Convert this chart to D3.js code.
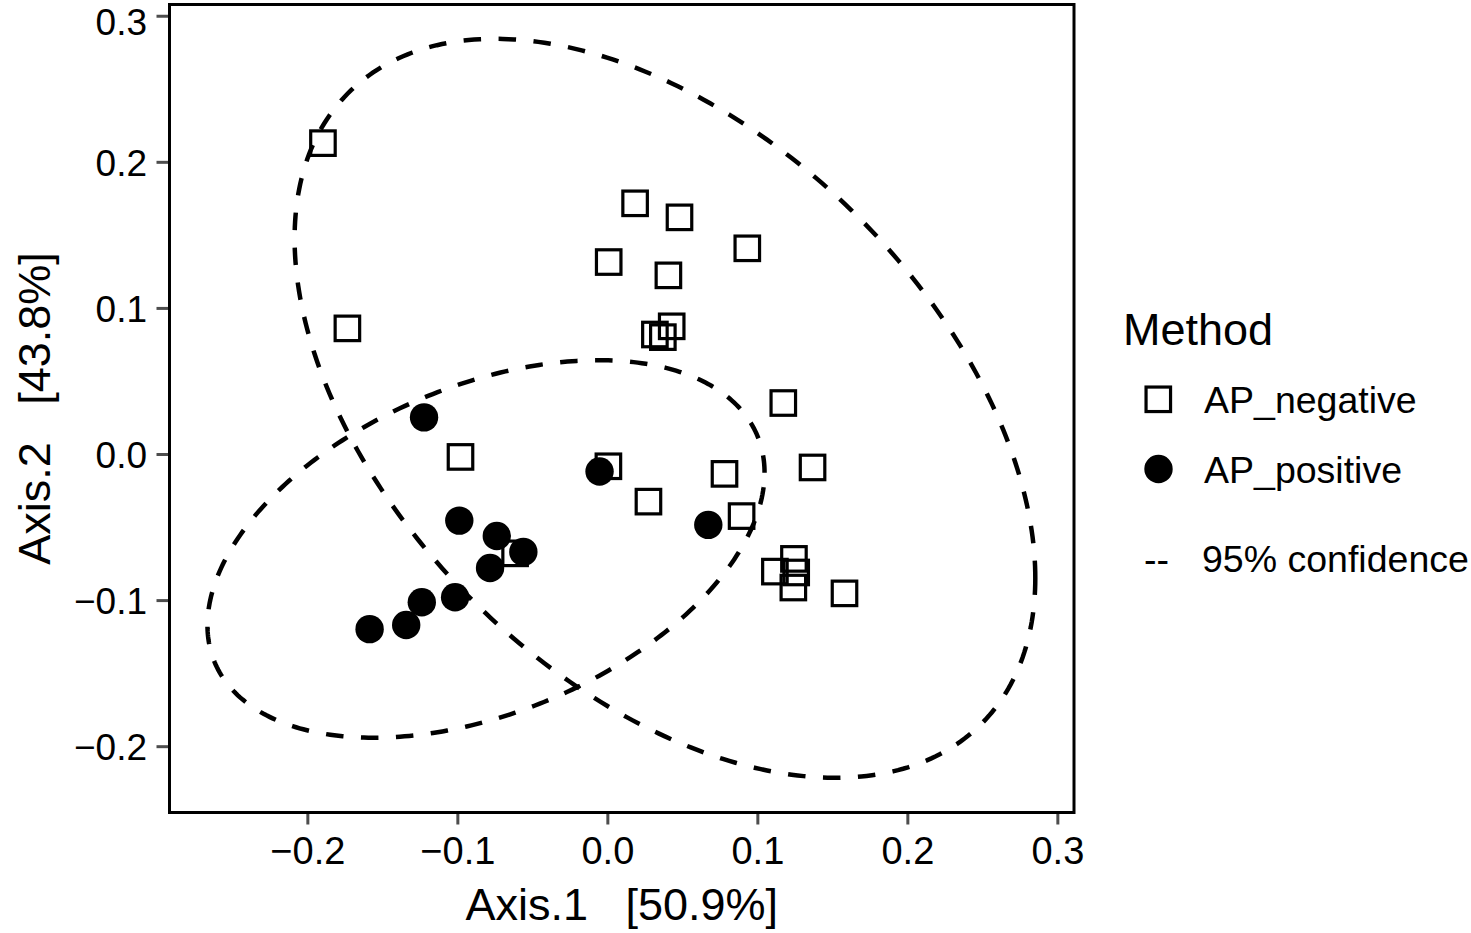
<!DOCTYPE html>
<html><head><meta charset="utf-8">
<script src="https://cdn.jsdelivr.net/npm/d3@7"></script>
<style>html,body{margin:0;padding:0;background:#fff}</style>
</head><body><svg id="c" width="1471" height="933"></svg>
<script>
// ---- data ----
const groups = ["AP_negative", "AP_positive"];
const negX = [-0.1896,-0.1733,0.0185,0.0009,0.0481,0.0933,0.0407,0.0429,0.0317,0.0370,0.1173,-0.0979,-0.0615,0.0007,0.1368,0.0781,0.0274,0.0895,0.1244,0.1117,0.1259,0.1240,0.1581];
const negY = [0.2128,0.0860,0.1716,0.1314,0.1620,0.1408,0.1223,0.0874,0.0818,0.0800,0.0349,-0.0020,-0.0680,-0.0084,-0.0092,-0.0136,-0.0326,-0.0425,-0.0718,-0.0805,-0.0811,-0.0914,-0.0954];
const posX = [-0.1222,-0.0052,-0.0987,-0.0737,-0.0560,-0.0782,-0.1015,-0.1237,-0.1341,-0.1585,0.0673];
const posY = [0.0251,-0.0120,-0.0456,-0.0561,-0.0670,-0.0780,-0.0981,-0.1015,-0.1170,-0.1199,-0.0485];
// 95% confidence ellipses: centre, half-extents and correlation (per group)
const ellCx = [0.0384, -0.0809];
const ellCy = [0.0313, -0.0650];
const ellSx = [0.2469, 0.1857];
const ellSy = [0.2529, 0.1292];
const ellR  = [-0.4596, 0.404];
const xTicks = [-0.2,-0.1,0.0,0.1,0.2,0.3];
const xTickLabels = ["\u22120.2","\u22120.1","0.0","0.1","0.2","0.3"];
const yTicks = [-0.2,-0.1,0.0,0.1,0.2,0.3];
const yTickLabels = ["\u22120.2","\u22120.1","0.0","0.1","0.2","0.3"];
const xDomain = [-0.2919, 0.3111];
const yDomain = [-0.2454, 0.3077];
const xTitle = "Axis.1   [50.9%]";
const yTitle = "Axis.2   [43.8%]";
const legendTitle = "Method";
const confSymbol = "--";
const confLabel = "95% confidence";

// ---- drawing ----
const FONT = "'Liberation Sans', Arial, Helvetica, sans-serif";
const L = 169.5, R = 1074, T = 4.5, B = 812.5;
const svg = d3.select("#c");
const x = d3.scaleLinear().domain(xDomain).range([L, R]);
const y = d3.scaleLinear().domain(yDomain).range([B, T]);

// axes
const gx = svg.append("g").attr("transform", `translate(0,${B})`)
  .call(d3.axisBottom(x).tickValues(xTicks).tickSize(12).tickFormat((d,i)=>xTickLabels[i]));
gx.select(".domain").remove();
gx.selectAll(".tick line").attr("stroke", "#4d4d4d").attr("stroke-width", 3);
gx.selectAll(".tick text").attr("y", 51.5).attr("dy", null)
  .attr("font-family", FONT).attr("font-size", 38).attr("fill", "#000");

const YFS = 37;
const gy = svg.append("g").attr("transform", `translate(${L},0)`)
  .call(d3.axisLeft(y).tickValues(yTicks).tickSize(13).tickFormat((d,i)=>yTickLabels[i]));
gy.select(".domain").remove();
gy.selectAll(".tick line").attr("stroke", "#4d4d4d").attr("stroke-width", 3);
gy.selectAll(".tick text").attr("x", -22.5).attr("dy", null)
  .attr("y", d => {
    // keep the top label's text box inside the picture
    const base = 13.5, minY = 0.92 * YFS + 0.5 - y(d);
    return Math.max(base, minY);
  })
  .attr("font-family", FONT).attr("font-size", YFS).attr("fill", "#000");

// points: squares (hollow) then circles
const neg = negX.map((v,i)=>({x:v, y:negY[i]}));
const pos = posX.map((v,i)=>({x:v, y:posY[i]}));
const S = 24.5;
svg.append("g").selectAll("rect").data(neg).join("rect")
  .attr("x", d=>x(d.x)-S/2).attr("y", d=>y(d.y)-S/2)
  .attr("width", S).attr("height", S)
  .attr("fill", "none").attr("stroke", "#000").attr("stroke-width", 3.2);
svg.append("g").selectAll("circle").data(pos).join("circle")
  .attr("cx", d=>x(d.x)).attr("cy", d=>y(d.y)).attr("r", 14.2).attr("fill", "#000");

// ellipses
const line = d3.line().x(d=>x(d[0])).y(d=>y(d[1])).curve(d3.curveLinearClosed);
groups.forEach((g, k) => {
  const pts = d3.range(0, 360).map(a => {
    const t = a * Math.PI / 180;
    return [ellCx[k] + ellSx[k]*Math.cos(t),
            ellCy[k] + ellSy[k]*(ellR[k]*Math.cos(t) + Math.sqrt(1-ellR[k]*ellR[k])*Math.sin(t))];
  });
  svg.append("path").attr("d", line(pts)).attr("fill", "none")
    .attr("stroke", "#000").attr("stroke-width", 4.5).attr("stroke-dasharray", "17.5 17.5");
});

// frame
svg.append("rect").attr("x", L).attr("y", T).attr("width", R-L).attr("height", B-T)
  .attr("fill", "none").attr("stroke", "#000").attr("stroke-width", 3);

// axis titles
svg.append("text").attr("x", (L+R)/2).attr("y", 920).attr("text-anchor", "middle")
  .attr("font-family", FONT).attr("font-size", 45).style("white-space", "pre").text(xTitle);
svg.append("text").attr("transform", `translate(50,${(T+B)/2}) rotate(-90)`).attr("text-anchor", "middle")
  .attr("font-family", FONT).attr("font-size", 45).style("white-space", "pre").text(yTitle);

// legend
const LFS = 37.5;
const lg = svg.append("g");
lg.append("text").attr("x", 1123).attr("y", 345).attr("font-family", FONT).attr("font-size", 45).text(legendTitle);
lg.append("rect").attr("x", 1158.3-S/2).attr("y", 399.3-S/2).attr("width", S).attr("height", S)
  .attr("fill", "none").attr("stroke", "#000").attr("stroke-width", 3.2);
lg.append("text").attr("x", 1204).attr("y", 412.5).attr("font-family", FONT).attr("font-size", LFS).text(groups[0]);
lg.append("circle").attr("cx", 1158.5).attr("cy", 469).attr("r", 14.2).attr("fill", "#000");
lg.append("text").attr("x", 1204).attr("y", 482.5).attr("font-family", FONT).attr("font-size", LFS).text(groups[1]);
lg.append("text").attr("x", 1144).attr("y", 572).attr("font-family", FONT).attr("font-size", LFS).text(confSymbol);
lg.append("text").attr("x", 1202).attr("y", 572).attr("font-family", FONT).attr("font-size", LFS).text(confLabel);
</script></body></html>
